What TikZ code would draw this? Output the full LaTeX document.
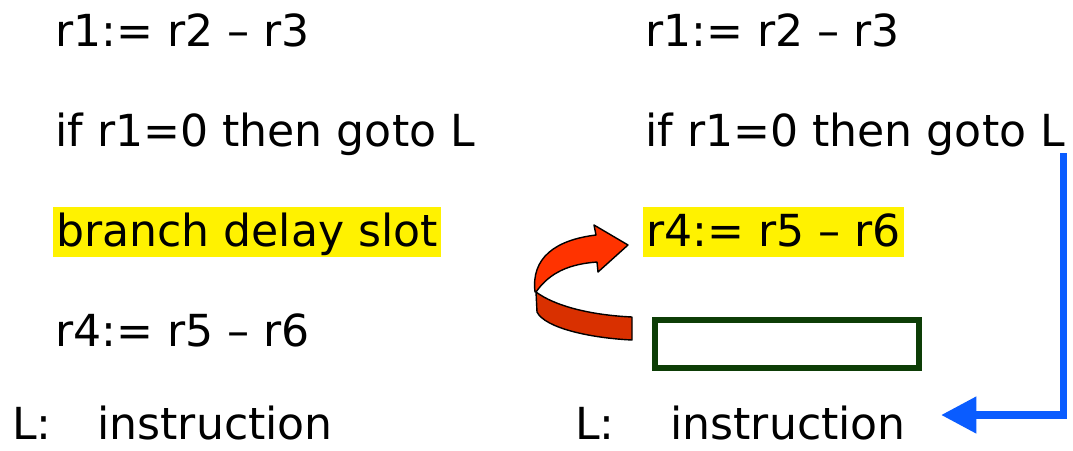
\documentclass[tikz,border=0pt]{standalone}
\usepackage{fontspec}
\setmainfont{DejaVu Sans}
\usetikzlibrary{arrows.meta,calc}

\definecolor{hlyellow}{RGB}{255,242,0}
\definecolor{jumpblue}{RGB}{10,92,255}
\definecolor{slotgreen}{RGB}{13,61,6}
\definecolor{ribbontop}{RGB}{255,51,0}
\definecolor{ribbonback}{RGB}{217,48,0}

\begin{document}
\begin{tikzpicture}
    [
      x=0.025cm, y=-0.025cm,
      code/.style={anchor=base west,inner sep=0pt,
        font=\fontsize{31.4}{36}\selectfont},
      delay/.style={code,fill=hlyellow,inner xsep=2pt,inner ysep=0pt,
        text height=28pt,text depth=8pt},
      slotbox/.style={draw=slotgreen,line width=4pt,rectangle,
        minimum width=6.6cm,minimum height=1.2cm},
      jump/.style={-{Triangle[length=25pt,width=25pt]},line width=5pt,draw=jumpblue},
      ribbon/.style={draw=black,line width=1pt,line join=round}
    ]
    \useasboundingbox (0,0) rectangle (1073,450);

    % without scheduling
    \node at (55,46) [code] (subL) {r1:= r2 – r3};
    \node at (55,146) [code] (ifL) {if r1=0 then goto L};
    \node at (53,246) [delay] (slotL) {branch delay slot};
    \node at (55,346) [code] (movL) {r4:= r5 – r6};
    \node at (12,439) [code] (labL) {L:};
    \node at (97,439) [code] (instL) {instruction};

    % with the slot filled
    \node at (645,46) [code] (subR) {r1:= r2 – r3};
    \node at (645,146) [code] (ifR) {if r1=0 then goto L};
    \node at (643,246) [delay] (movR) {r4:= r5 – r6};
    \node at (787,344) [slotbox] (emptyslot) {};
    \node at (575,439) [code] (labR) {L:};
    \node at (670,439) [code] (instR) {instruction};

    \draw [jump] ($(ifR.base east)+(-2,7)$) |- ($(instR.base east)+(35,-24)$);

    % curved arrow moving the instruction up
    \filldraw [ribbon,fill=ribbonback] (536,292) .. controls (555,306) and (590,315) .. (632,317)
      -- (632,340) .. controls (590,338) and (545,328) .. (537,312) -- cycle;
    \filldraw [ribbon,fill=ribbontop] (536,292) .. controls (550,272) and (570,264) .. (597,262)
      -- (598,272) -- (628,245) -- (594,225) -- (596,235)
      .. controls (555,240) and (531,258) .. (535,292) -- cycle;
\end{tikzpicture}
\end{document}
